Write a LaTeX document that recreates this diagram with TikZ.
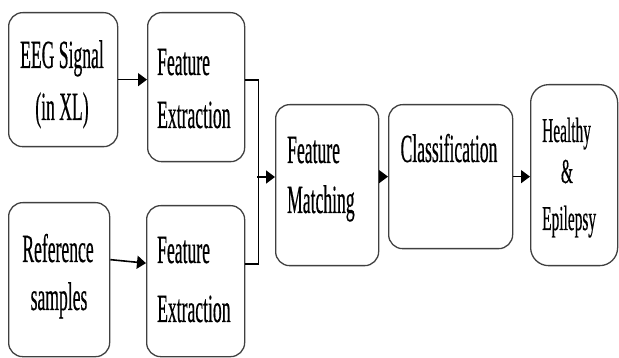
\documentclass[tikz,border=0pt]{standalone}
\usepackage{fontspec}
\setmainfont{Liberation Serif}[FakeStretch=0.44,FakeBold=0.4]
\usetikzlibrary{arrows.meta}
\begin{document}
\begin{tikzpicture}[x=1pt,y=-1pt,
  box/.style={draw=black!75,line width=1.3pt,rounded corners=14pt,anchor=north west,inner sep=0pt},
  lbl/.style={inner sep=0pt,font=\fontsize{40}{47}\selectfont},
  lbls/.style={inner sep=0pt,font=\fontsize{35}{42}\selectfont},
  conn/.style={line width=1.6pt,black},
  arr/.style={conn,-{Triangle[length=9pt,width=13pt]}}]
\useasboundingbox (0,0) rectangle (619,358);
% boxes
\node[box,minimum width=109pt,minimum height=134pt] (eeg) at (8,12) {};
\node[box,minimum width=97pt,minimum height=149pt] (fe1) at (147,12) {};
\node[box,minimum width=101pt,minimum height=154pt] (ref) at (8,202) {};
\node[box,minimum width=98pt,minimum height=151pt] (fe2) at (146,205) {};
\node[box,minimum width=103pt,minimum height=161pt] (fm) at (275,104) {};
\node[box,minimum width=124pt,minimum height=144pt] (cls) at (388,104) {};
\node[box,minimum width=87pt,minimum height=181pt,rounded corners=18pt] (out) at (530,84) {};
% texts
\node[lbl,anchor=base] (eegA) at (62,68) {EEG Signal};
\node[lbl,anchor=base] (eegB) at (62,120) {(in XL)};
\node[lbl,anchor=base west] (fe1A) at (157,75) {Feature};
\node[lbl,anchor=base west] (fe1B) at (157,128) {Extraction};
\node[lbl,anchor=base] (refA) at (58,262) {Reference};
\node[lbl,anchor=base] (refB) at (59,310) {samples};
\node[lbl,anchor=base west] (fe2A) at (157,263) {Feature};
\node[lbl,anchor=base west] (fe2B) at (157,322) {Extraction};
\node[lbl,anchor=base west] (fmA) at (287,163) {Feature};
\node[lbl,anchor=base west] (fmB) at (287,213) {Matching};
\node[lbl,anchor=base] (clsA) at (449,162) {Classification};
\node[lbls,anchor=base west] (outA) at (542,142) {Healthy};
\node[lbls,anchor=base] (outB) at (567,183) {\&};
\node[lbls,anchor=base west] (outC) at (542,230) {Epilepsy};
% connectors
\draw[arr] (eeg.east) -- (eeg.east -| fe1.west);
\draw[arr] ([yshift=20pt]ref.east) -- ([yshift=18pt]fe2.west);
\draw[conn] ([yshift=7pt]fe1.east) -- ++(13,0) |- ([yshift=17pt]fe2.east);
\coordinate (j) at (257,177);
\draw[arr] (j) -- (j -| fm.west);
\draw[arr] (cls.west -| fm.east) -- (cls.west);
\draw[arr] (cls.east) -- (cls.east -| out.west);
\end{tikzpicture}
\end{document}
